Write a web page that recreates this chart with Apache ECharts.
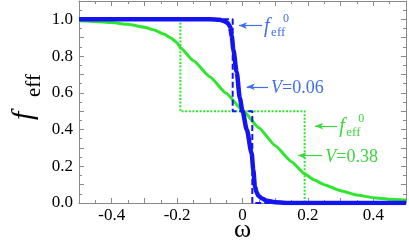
<!DOCTYPE html>
<html>
<head>
<meta charset="utf-8">
<script src="https://cdn.jsdelivr.net/npm/echarts@6/dist/echarts.min.js"></script>
<style>html,body{margin:0;padding:0;background:#fff}#c{width:409px;height:249px}</style>
</head>
<body>
<div id="c"></div>
<script>
// ---- data ----
const v006Omega = [-0.5,-0.1,-0.07,-0.055,-0.045,-0.038,-0.033,-0.028,-0.018,-0.008,0,0.013,0.028,0.033,0.038,0.043,0.048,0.06,0.074,0.1,0.15,0.5];
const v006F     = [1,1,0.998,0.99,0.98,0.96,0.91,0.835,0.715,0.57,0.5,0.40,0.27,0.18,0.09,0.06,0.04,0.025,0.012,0.004,0,0];
const v038Omega = [-0.5,-0.45,-0.4,-0.35,-0.3,-0.27,-0.24,-0.22,-0.2,-0.19,-0.15,-0.1,-0.05,0,0.05,0.1,0.15,0.19,0.22,0.25,0.3,0.35,0.4,0.45,0.5];
const v038F     = [0.993,0.989,0.983,0.973,0.957,0.942,0.92,0.9,0.873,0.845,0.774,0.688,0.598,0.505,0.41,0.312,0.225,0.158,0.125,0.1,0.067,0.043,0.029,0.021,0.016];
const step006Omega = [-0.5,-0.03,-0.03,0.03,0.03,0.5];
const step006F     = [1,1,0.5,0.5,0,0];
const step038Omega = [-0.5,-0.19,-0.19,0.19,0.19,0.5];
const step038F     = [1,1,0.5,0.5,0,0];
const xLabelValues = [-0.4,-0.2,0,0.2,0.4];
const yLabelValues = [0,0.2,0.4,0.6,0.8,1.0];
// annotation arrows: [tailOmega, tipOmega, f]
const arrowBlueF0 = [0.060,-0.011,0.966];
const arrowBlueV  = [0.078,0.013,0.633];
const arrowGreenF0= [0.290,0.222,0.419];
const arrowGreenV = [0.244,0.170,0.258];
const labelBlueV  = 'V=0.06';
const labelGreenV = 'V=0.38';

const BLUE='#1414f0', BLUE_T='#3f6ef2', GREEN='#2ee62e', GREEN_T='#3ad83a';
const SERIF='Liberation Serif';

function pairs(xs,ys){return xs.map((x,i)=>[x,ys[i]]);}
function near(v,list){return list.some(t=>Math.abs(t-v)<1e-6);}
function arrowML(a,color){
  return {silent:true,symbol:['none','arrow'],symbolSize:[5,8],
    lineStyle:{color:color,width:1.2,type:'solid'},label:{show:false},
    data:[[{coord:[a[0],a[2]]},{coord:[a[1],a[2]]}]]};
}
const axisCommon = {
  axisLine:{show:true,onZero:false,lineStyle:{color:'#8a8a8a',width:1}},
  axisTick:{show:true,inside:true,length:5,lineStyle:{color:'#8a8a8a'}},
  minorTick:{show:true,splitNumber:2,length:3,lineStyle:{color:'#8a8a8a'}},
  splitLine:{show:false}
};
const chart = echarts.init(document.getElementById('c'));
const option = {
  animation:false,
  backgroundColor:'#fff',
  grid:{left:79,right:3,top:1,bottom:46},
  xAxis:[
    Object.assign({type:'value',min:-0.5,max:0.5,interval:0.1,position:'bottom',
      axisLabel:{margin:4,color:'#000',fontFamily:SERIF,fontSize:17,showMinLabel:true,showMaxLabel:true,
        formatter:v=>near(v,xLabelValues)?(Math.abs(v)<1e-9?'0':v.toFixed(1)):''}},axisCommon),
    Object.assign({type:'value',min:-0.5,max:0.5,interval:0.1,position:'top',axisLabel:{show:false}},axisCommon)
  ],
  yAxis:[
    Object.assign({type:'value',min:0,max:1.1,interval:0.1,position:'left',
      axisLabel:{margin:6,color:'#000',fontFamily:SERIF,fontSize:17,
        formatter:v=>near(v,yLabelValues)?v.toFixed(1):''}},axisCommon),
    Object.assign({type:'value',min:0,max:1.1,interval:0.1,position:'right',axisLabel:{show:false}},axisCommon)
  ],
  series:[
    {type:'line',data:pairs(step038Omega,step038F),symbol:'none',
     lineStyle:{color:GREEN,width:2,type:[2,1.6]},z:2,
     markLine:arrowML(arrowGreenF0,GREEN_T)},
    {type:'line',data:pairs(v038Omega,v038F),symbol:'none',smooth:0.15,smoothMonotone:'x',
     lineStyle:{color:GREEN,width:3},z:3,
     markLine:arrowML(arrowGreenV,GREEN_T)},
    {type:'line',data:pairs(step006Omega,step006F),symbol:'none',
     lineStyle:{color:BLUE,width:2,type:[6,3]},z:4,
     markLine:arrowML(arrowBlueF0,BLUE_T)},
    {type:'line',data:pairs(v006Omega,v006F),symbol:'none',smooth:0.25,smoothMonotone:'x',
     lineStyle:{color:BLUE,width:4.5},z:5,
     markLine:arrowML(arrowBlueV,BLUE_T)}
  ]
};
chart.setOption(option);

function P(x,y){return chart.convertToPixel({xAxisIndex:0,yAxisIndex:0},[x,y]);}
function txt(x,baseline,text,size,color,italic,align){
  return {type:'text',x:x,y:baseline-0.31*size,silent:true,z:100,
    style:{text:text,fill:color,fontStyle:italic?'italic':'normal',fontSize:size,fontFamily:SERIF,
      align:align||'left',verticalAlign:'middle'}};
}
function feff0(a,color){
  const tail=P(a[0],a[2]);
  const x=tail[0]+2, y=tail[1];
  return [txt(x,y+7,'f',20,color,true), txt(x+7,y+11,'eff',13,color,false), txt(x+19,y-3,'0',12,color,false)];
}
function vlabel(a,text,color){
  const tail=P(a[0],a[2]);
  const x=tail[0]+3, y=tail[1]+7.5;
  const val=text.slice(1);
  return [txt(x,y,'V',18,color,true), txt(x+11,y,val,18,color,false)];
}
const g=[];
g.push(...feff0(arrowBlueF0,BLUE_T));
g.push(...vlabel(arrowBlueV,labelBlueV,BLUE_T));
g.push(...feff0(arrowGreenF0,GREEN_T));
g.push(...vlabel(arrowGreenV,labelGreenV,GREEN_T));
// axis titles
const xc=P(0,0);
g.push(txt(xc[0],238,'ω',26,'#000',false,'center'));
g.push({type:'group',x:33,y:120,rotation:Math.PI/2,children:[
  txt(0,0,'f',30,'#000',true),
  txt(23,8,'eff',21,'#000',false)
]});
chart.setOption({graphic:g});
</script>
</body>
</html>
